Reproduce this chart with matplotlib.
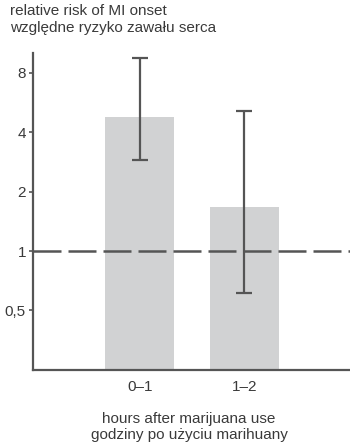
import matplotlib
matplotlib.use("Agg")
import matplotlib.pyplot as plt
from matplotlib.ticker import FixedLocator, NullLocator

plt.rcParams['font.family'] = ['Liberation Sans', 'DejaVu Sans']

categories = ["0\u20131", "1\u20132"]
values = [4.75, 1.68]
ci_low = [2.88, 0.61]
ci_high = [9.5, 5.15]
yticks = [0.5, 1, 2, 4, 8]
ytick_labels = ["0,5", "1", "2", "4", "8"]

dark = "#555555"
txt = "#3a3a3a"
fig = plt.figure(figsize=(3.5, 4.44), dpi=100)
ax = fig.add_axes([0.094, 0.167, 0.906, 0.714])
ax.set_yscale("log")
x = list(range(len(categories)))
ax.bar(x, values, width=0.66, color="#d1d2d3", zorder=1)
yerr = [[v - l for v, l in zip(values, ci_low)], [h - v for v, h in zip(values, ci_high)]]
ax.errorbar(x, values, yerr=yerr, fmt="none", ecolor=dark, elinewidth=1.6, capsize=6, capthick=1.6, zorder=3)
ax.axhline(1, color=dark, lw=1.8, dashes=(11.2, 2.8), zorder=2)
ax.set_xlim(-1.02, 2.01)
ax.set_ylim(0.25, 10.1)
ax.yaxis.set_major_locator(FixedLocator(yticks))
ax.yaxis.set_minor_locator(NullLocator())
ax.set_yticklabels(ytick_labels)
ax.set_xticks(x)
ax.set_xticklabels(categories)
for s in ["top", "right"]:
    ax.spines[s].set_visible(False)
for s in ["left", "bottom"]:
    ax.spines[s].set_color(dark)
    ax.spines[s].set_linewidth(1.6)
ax.tick_params(axis="y", length=3, width=1.2, color=dark, labelsize=11, labelcolor=txt, pad=2)
ax.tick_params(axis="x", length=0, labelsize=11, labelcolor=txt, pad=7)
fig.text(0.03, 0.99, "relative risk of MI onset\nwzgl\u0119dne ryzyko zawa\u0142u serca", ha="left", va="top",
         fontsize=11, color=txt, linespacing=1.25)
fig.text(0.54, 0.004, "hours after marijuana use\ngodziny po u\u017cyciu marihuany", ha="center", va="bottom",
         fontsize=11, color=txt, linespacing=1.2)
fig.savefig("out.png", dpi=100)
